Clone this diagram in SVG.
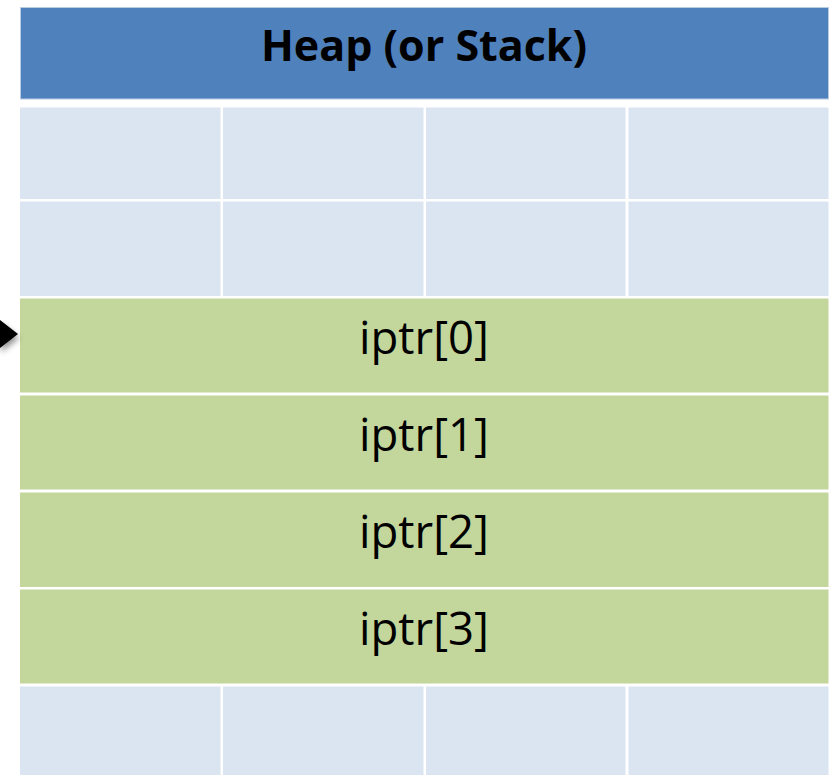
<svg xmlns="http://www.w3.org/2000/svg" width="836" height="775" viewBox="0 0 836 775">
  <defs>
    <style>
      .hdr { fill: #4F81BD; stroke: #B8CCE4; stroke-width: 1; }
      .cell { fill: #DBE5F1; }
      .arr { fill: #C3D69B; }
      .ttl { font-family: "Open Sans", "Liberation Sans", sans-serif; font-weight: bold; font-size: 43px; fill: #000; text-anchor: middle; }
      .lbl { font-family: "Open Sans", "Liberation Sans", sans-serif; font-size: 45.5px; fill: #000; text-anchor: middle; }
    </style>
    <filter id="sh" x="-50%" y="-50%" width="200%" height="200%">
      <feGaussianBlur in="SourceAlpha" stdDeviation="3"/>
      <feOffset dx="1" dy="4" result="b"/>
      <feComponentTransfer><feFuncA type="linear" slope="0.45"/></feComponentTransfer>
      <feMerge><feMergeNode/><feMergeNode in="SourceGraphic"/></feMerge>
    </filter>
  </defs>
  <rect width="836" height="775" fill="#FFFFFF"/>

  <g id="header">
    <rect class="hdr" x="20.5" y="7.5" width="808" height="91.5"/>
    <text class="ttl" x="424" y="61">Heap (or Stack)</text>
  </g>

  <g id="row1">
    <rect class="cell" x="20" y="107.5" width="200.5" height="91.5"/>
    <rect class="cell" x="223" y="107.5" width="200.5" height="91.5"/>
    <rect class="cell" x="426" y="107.5" width="199.5" height="91.5"/>
    <rect class="cell" x="628.5" y="107.5" width="200" height="91.5"/>
  </g>
  <g id="row2">
    <rect class="cell" x="20" y="201.5" width="200.5" height="94.5"/>
    <rect class="cell" x="223" y="201.5" width="200.5" height="94.5"/>
    <rect class="cell" x="426" y="201.5" width="199.5" height="94.5"/>
    <rect class="cell" x="628.5" y="201.5" width="200" height="94.5"/>
  </g>

  <g id="iptr0">
    <rect class="arr" x="20" y="298.5" width="808.5" height="94"/>
    <text class="lbl" x="424" y="354">iptr[0]</text>
  </g>
  <g id="iptr1">
    <rect class="arr" x="20" y="395.5" width="808.5" height="94"/>
    <text class="lbl" x="424" y="451">iptr[1]</text>
  </g>
  <g id="iptr2">
    <rect class="arr" x="20" y="492.5" width="808.5" height="94.5"/>
    <text class="lbl" x="424" y="548">iptr[2]</text>
  </g>
  <g id="iptr3">
    <rect class="arr" x="20" y="589.5" width="808.5" height="94"/>
    <text class="lbl" x="424" y="645">iptr[3]</text>
  </g>

  <g id="row7">
    <rect class="cell" x="20" y="686.5" width="200.5" height="90"/>
    <rect class="cell" x="223" y="686.5" width="200.5" height="90"/>
    <rect class="cell" x="426" y="686.5" width="199.5" height="90"/>
    <rect class="cell" x="628.5" y="686.5" width="200" height="90"/>
  </g>

  <g id="connectors">
    <g filter="url(#sh)">
      <line x1="-10" y1="334" x2="4" y2="334" stroke="#000" stroke-width="3"/>
      <polygon points="0,320 18,334 0,348" fill="#000"/>
    </g>
  </g>
</svg>
